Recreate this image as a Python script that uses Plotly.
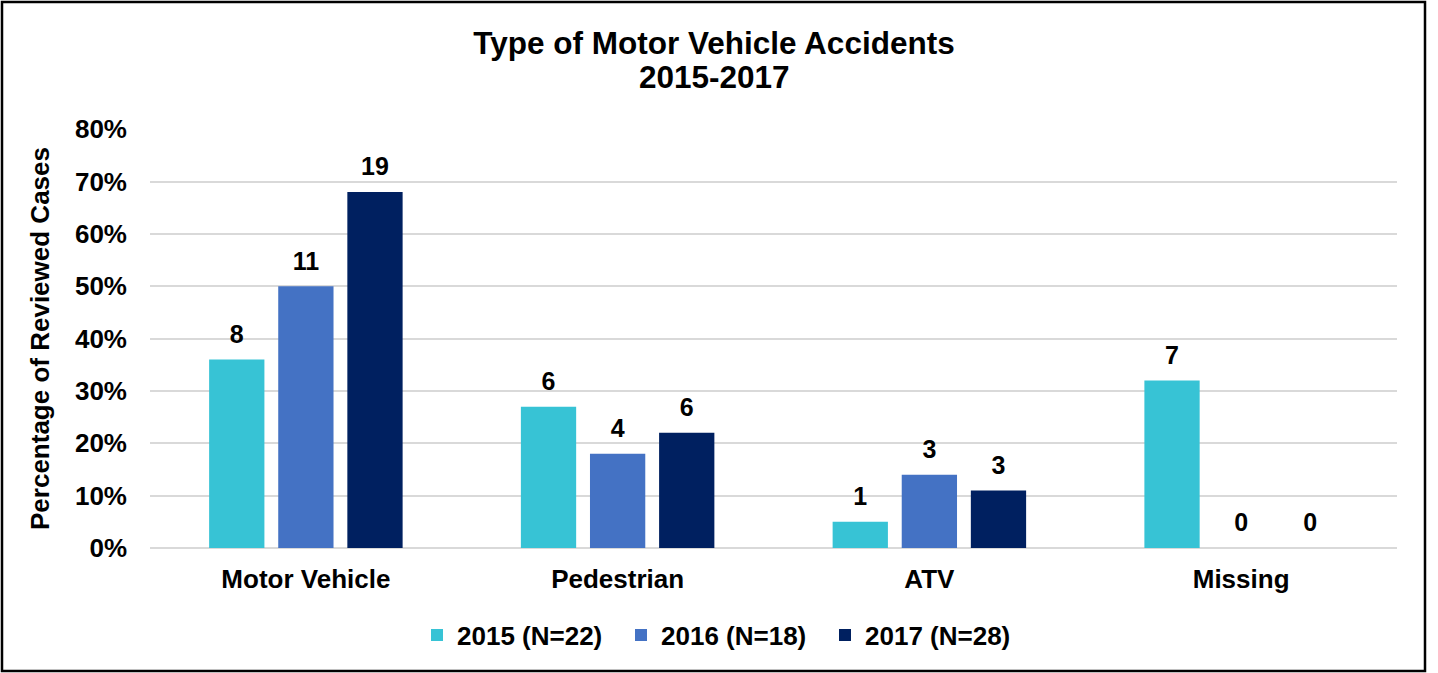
import plotly.graph_objects as go

categories = ["Motor Vehicle", "Pedestrian", "ATV", "Missing"]
series_names = ["2015 (N=22)", "2016 (N=18)", "2017 (N=28)"]
pct_2015 = [0.36, 0.27, 0.05, 0.32]
pct_2016 = [0.50, 0.18, 0.14, 0.0]
pct_2017 = [0.68, 0.22, 0.11, 0.0]
cnt_2015 = [8, 6, 1, 7]
cnt_2016 = [11, 4, 3, 0]
cnt_2017 = [19, 6, 3, 0]
colors = ["#37C3D5", "#4472C4", "#002060"]
title_line1 = "Type of Motor Vehicle Accidents"
title_line2 = "2015-2017"
y_title = "Percentage of Reviewed Cases"

FONT = "Liberation Sans, Arial, sans-serif"

fig = go.Figure()
for name, vals, col in zip(series_names, [pct_2015, pct_2016, pct_2017], colors):
    fig.add_trace(go.Bar(x=categories, y=vals, name=name, marker_color=col,
                         marker_line_width=0))
for name, vals, cnts in zip(series_names, [pct_2015, pct_2016, pct_2017],
                            [cnt_2015, cnt_2016, cnt_2017]):
    fig.add_trace(go.Scatter(
        x=categories, y=vals, mode="markers+text", showlegend=False,
        text=[str(c) for c in cnts], textposition="top center",
        textfont=dict(family=FONT, size=25, color="black", weight="bold"),
        marker=dict(size=15, color="rgba(0,0,0,0)"),
        hoverinfo="skip", cliponaxis=False, name=name,
    ))

W, H = 1438, 673
L, R, T, B = 150, 41, 129, 125
pw, ph = W - L - R, H - T - B

def px_x(p):
    return (p - L) / pw

def px_y(p):
    return (H - B - p) / ph

fig.update_layout(
    width=W, height=H,
    margin=dict(l=L, r=R, t=T, b=B),
    paper_bgcolor="white", plot_bgcolor="white",
    font=dict(family=FONT, color="black"),
    title=dict(text=title_line1,
               x=px_x(714), xanchor="center", xref="paper",
               y=1 - 42.5 / H, yanchor="middle",
               font=dict(family=FONT, size=31.5, color="black", weight="bold")),
    annotations=[dict(text=title_line2, xref="paper", yref="paper",
                      x=px_x(714), y=px_y(77), xanchor="center", yanchor="middle",
                      showarrow=False,
                      font=dict(family=FONT, size=31.5, color="black", weight="bold"))],
    barmode="group", bargap=0.335, bargroupgap=0.2,
    scattermode="group",
    showlegend=True,
    legend=dict(orientation="h", x=px_x(417), xanchor="left",
                y=px_y(635), yanchor="middle",
                font=dict(family=FONT, size=26, color="black", weight="bold"),
                traceorder="normal", itemwidth=30, entrywidth=159),
    xaxis=dict(showgrid=False, showline=False, ticks="",
               tickfont=dict(family=FONT, size=26, color="black", weight="bold"),
               ticklabelstandoff=13),
    yaxis=dict(range=[0, 0.8005], dtick=0.1, tickformat=".0%",
               showgrid=True, gridcolor="#D9D9D9", gridwidth=1.5,
               zeroline=True, zerolinecolor="#D9D9D9", zerolinewidth=1.5,
               showline=False, ticks="",
               tickfont=dict(family=FONT, size=26, color="black", weight="bold"),
               ticklabelstandoff=22,
               title=dict(text=y_title,
                          font=dict(family=FONT, size=26, color="black", weight="bold"),
                          standoff=17)),
    shapes=[dict(type="rect", xref="paper", yref="paper",
                 x0=px_x(2), x1=px_x(1425), y0=px_y(671), y1=px_y(2),
                 line=dict(color="black", width=2.5), fillcolor="rgba(0,0,0,0)",
                 layer="above")],
)

fig.write_html("out.html", config={"displayModeBar": False},
               post_script="document.body.style.margin='0';document.body.style.overflow='hidden';")
